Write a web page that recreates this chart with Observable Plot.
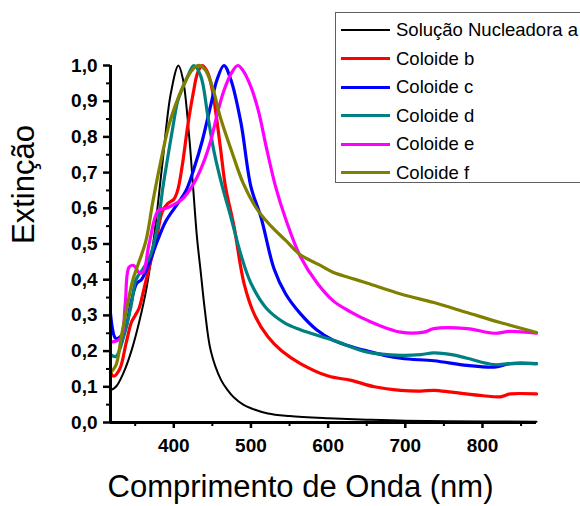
<!DOCTYPE html>
<html>
<head>
<meta charset="utf-8">
<script src="https://cdn.jsdelivr.net/npm/d3@7"></script>
<script src="https://cdn.jsdelivr.net/npm/@observablehq/plot@0.6"></script>
<style>
  html, body { margin: 0; padding: 0; background: #fff; }
  #wrap { position: relative; width: 580px; height: 506px; overflow: hidden; font-family: "Liberation Sans", Arial, sans-serif; }
  #legend { position: absolute; left: 335px; top: 12px; width: 260px; height: 171px; border: 1.5px solid #606060; background: #fff; box-sizing: border-box; }
  .row { position: absolute; left: 0; height: 28px; display: flex; align-items: center; font-size: 18.5px; color: #000; white-space: nowrap; }
  .sw { width: 49px; margin-left: 5px; margin-right: 6px; }
</style>
</head>
<body>
<div id="wrap"><div id="chart"></div><div id="legend"></div></div>
<script>
const seriesNames = ["Solução Nucleadora a", "Coloide b", "Coloide c", "Coloide d", "Coloide e", "Coloide f"];
const seriesColors = ["#000000", "#ff0000", "#0000ff", "#008080", "#ff00ff", "#808000"];
const seriesWidths = [2, 3.2, 3.2, 3.2, 3.2, 3.2];

const xA = [318,325,335,345,355,365,375,385,396,406,412,420,425,430,435,440,448,461,470,478,490,500,522,550,600,650,700,800,870];
const yA = [0.09,0.10,0.14,0.20,0.28,0.38,0.53,0.72,0.92,1.0,0.96,0.80,0.66,0.52,0.42,0.32,0.20,0.12,0.09,0.07,0.05,0.04,0.025,0.018,0.012,0.008,0.005,0.003,0.002];

const xB = [318,322,330,338,345,350,355,362,370,378,385,392,400,405,411,418,425,431,437,444,450,455,461,467,478,491,505,522,540,564,600,630,660,694,720,737,760,801,823,836,870];
const yB = [0.14,0.13,0.15,0.22,0.28,0.30,0.32,0.38,0.45,0.52,0.59,0.613,0.625,0.65,0.72,0.83,0.92,0.98,1.0,0.98,0.93,0.86,0.76,0.66,0.55,0.39,0.30,0.24,0.20,0.165,0.13,0.118,0.10,0.09,0.088,0.09,0.085,0.075,0.072,0.08,0.08];

const xC = [318,325,335,345,352,358,367,379,390,405,416,426,437,448,456,465,474,487,500,513,530,545,564,585,607,651,694,737,780,815,836,870];
const yC = [0.305,0.235,0.25,0.34,0.39,0.40,0.44,0.51,0.565,0.613,0.65,0.71,0.79,0.89,0.96,1.0,0.96,0.84,0.66,0.575,0.43,0.36,0.305,0.26,0.23,0.20,0.18,0.173,0.16,0.155,0.165,0.165];

const xD = [318,325,335,345,351,360,370,379,386,392,399,405,412,418,426,435,444,452,463,474,487,500,520,543,564,607,651,694,720,737,760,780,815,836,870];
const yD = [0.19,0.185,0.24,0.33,0.40,0.43,0.47,0.55,0.66,0.74,0.83,0.90,0.94,0.97,1.0,0.97,0.86,0.76,0.66,0.575,0.47,0.39,0.32,0.28,0.26,0.23,0.197,0.188,0.19,0.195,0.19,0.18,0.162,0.165,0.165];

const xE = [318,331,337,342,348,355,360,368,380,390,400,413,426,437,448,457,465,475,483,490,500,510,520,532,545,564,586,607,629,651,694,724,737,780,815,836,870];
const yE = [0.225,0.235,0.33,0.435,0.44,0.42,0.42,0.50,0.594,0.60,0.61,0.63,0.67,0.72,0.79,0.87,0.93,0.98,1.0,0.985,0.94,0.87,0.77,0.66,0.57,0.465,0.39,0.34,0.31,0.286,0.253,0.253,0.263,0.263,0.25,0.255,0.25];

const xF = [318,325,332,340,347,355,364,373,383,394,405,415,423,431,440,450,461,475,490,509,526,545,564,590,607,629,651,694,737,780,823,870];
const yF = [0.14,0.16,0.24,0.33,0.40,0.45,0.51,0.62,0.73,0.835,0.905,0.955,0.985,1.0,0.99,0.94,0.85,0.76,0.67,0.594,0.55,0.51,0.47,0.44,0.42,0.405,0.39,0.36,0.336,0.308,0.28,0.252];

const yTicks = [0,0.1,0.2,0.3,0.4,0.5,0.6,0.7,0.8,0.9,1.0];
const yMinor = [0.05,0.15,0.25,0.35,0.45,0.55,0.65,0.75,0.85,0.95];
const xTicks = [400,500,600,700,800];
const xMinor = [350,450,550,650,750,850];

const xs = [xA, xB, xC, xD, xE, xF];
const ys = [yA, yB, yC, yD, yE, yF];
const data = [];
seriesNames.forEach((s, i) => xs[i].forEach((x, j) => data.push({series: s, x, y: ys[i][j]})));

const fmt = d => d.toFixed(1).replace(".", ",");

const lines = seriesNames.map((s, i) => Plot.line(data.filter(d => d.series === s), {
  x: "x", y: "y", stroke: seriesColors[i], strokeWidth: seriesWidths[i], curve: "catmull-rom"
}));

const chart = Plot.plot({
  width: 580, height: 506,
  marginLeft: 110, marginRight: 44, marginTop: 65, marginBottom: 84,
  style: {fontFamily: "'Liberation Sans', Arial, sans-serif", color: "#000", background: "#fff"},
  x: {domain: [318, 870]},
  y: {domain: [0, 1]},
  marks: [
    ...lines,
    Plot.ruleX([318], {strokeWidth: 3, stroke: "#000"}),
    Plot.ruleY([0], {strokeWidth: 3, stroke: "#000"}),
    Plot.axisY({ticks: yTicks, tickFormat: fmt, tickSize: 7, tickPadding: 6, strokeWidth: 2.5, fontSize: 19, fontWeight: "bold", label: null}),
    Plot.axisY({ticks: yMinor, tickFormat: null, text: null, tickSize: 4, strokeWidth: 2, label: null}),
    Plot.axisX({ticks: xTicks, tickSize: 6, tickPadding: 10, strokeWidth: 2.5, fontSize: 19, fontWeight: "bold", label: null}),
    Plot.axisX({ticks: xMinor, text: null, tickSize: 4, strokeWidth: 2, label: null}),
    Plot.text(["Comprimento de Onda (nm)"], {frameAnchor: "bottom", dy: 74, dx: -23, fontSize: 31, lineAnchor: "bottom"}),
    Plot.text(["Extinção"], {frameAnchor: "left", dx: -86, rotate: -90, fontSize: 31})
  ]
});
document.getElementById("chart").appendChild(chart);

const legend = document.getElementById("legend");
seriesNames.forEach((s, i) => {
  const row = document.createElement("div");
  row.className = "row";
  row.style.top = (3 + i * 28.5) + "px";
  const sw = document.createElement("div");
  sw.className = "sw";
  sw.style.borderTop = (i === 0 ? 2.5 : 3.5) + "px solid " + seriesColors[i];
  row.appendChild(sw);
  const t = document.createElement("span");
  t.textContent = s;
  row.appendChild(t);
  legend.appendChild(row);
});
</script>
</body>
</html>
